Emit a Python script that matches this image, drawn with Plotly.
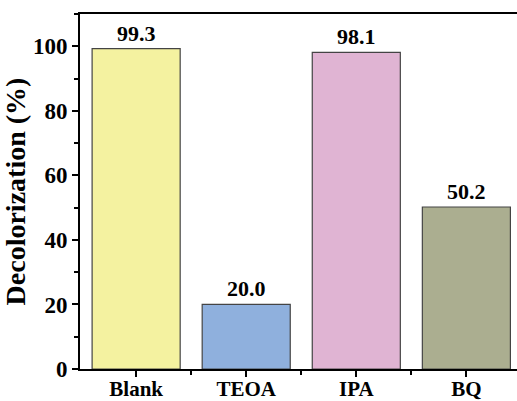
import plotly.graph_objects as go

categories = ["Blank", "TEOA", "IPA", "BQ"]
decolorization = [99.3, 20.0, 98.1, 50.2]
bar_colors = ["#f4f2a0", "#8fb0dd", "#e0b4d3", "#abae90"]
y_ticks = [0, 20, 40, 60, 80, 100]

serif = "Times New Roman, Liberation Serif, serif"
xpos = list(range(len(categories)))

fig = go.Figure()
fig.add_trace(go.Bar(
    x=xpos,
    y=decolorization,
    width=0.8,
    marker=dict(color=bar_colors, line=dict(color="#444444", width=1.2)),
    text=[f"<b>{v:.1f}</b>" for v in decolorization],
    textposition="outside",
    cliponaxis=False,
    textfont=dict(family=serif, size=22, color="black"),
    showlegend=False,
))

fig.update_layout(
    width=517,
    height=401,
    margin=dict(l=80, r=0, t=14, b=32),
    plot_bgcolor="white",
    paper_bgcolor="white",
    font=dict(family=serif, color="black"),
    xaxis=dict(
        range=[-0.51, 3.46],
        tickvals=xpos,
        ticktext=[f"<b>{c}</b>" for c in categories],
        tickfont=dict(family=serif, size=21),
        ticks="outside", ticklen=6, tickwidth=2, tickcolor="black",
        ticklabelstandoff=-6,
        minor=dict(tickvals=[0.5, 1.5, 2.5], ticks="outside", ticklen=4, tickwidth=2, tickcolor="black"),
        showline=True, linewidth=2, linecolor="black", mirror=True,
        showgrid=False, zeroline=False, automargin=False,
    ),
    yaxis=dict(
        range=[0, 110],
        tickvals=y_ticks,
        ticktext=[f"<b>{t}</b>" for t in y_ticks],
        tickfont=dict(family=serif, size=23),
        ticks="outside", ticklen=6, tickwidth=2, tickcolor="black",
        minor=dict(dtick=10, ticks="outside", ticklen=4, tickwidth=2, tickcolor="black"),
        showline=True, linewidth=2, linecolor="black",
        showgrid=False, zeroline=False, automargin=False,
        title=dict(text="<b>Decolorization (%)</b>", font=dict(family=serif, size=28), standoff=5),
    ),
)

# the page body has a default 8px margin and may scroll; remove both so the figure fills the window
fig.write_html(
    "out.html",
    config={"displayModeBar": False},
    post_script="document.body.style.margin='0';"
                "document.body.style.overflow='hidden';"
                "document.documentElement.style.overflow='hidden';",
)
